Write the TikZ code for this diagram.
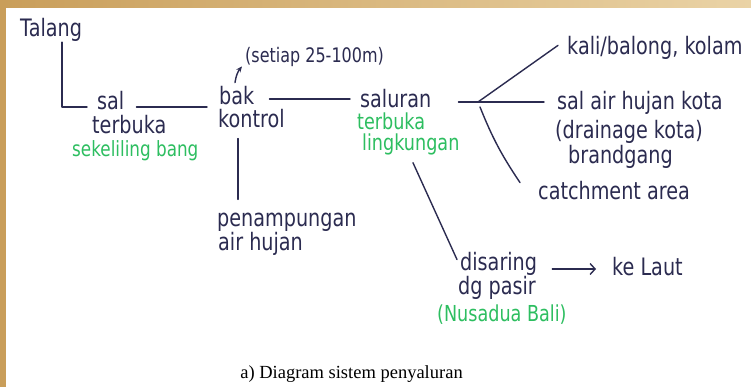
\documentclass[tikz,border=0pt]{standalone}
\usepackage{fontspec}
\setmainfont{Liberation Serif}
\newfontfamily\handfont[FakeStretch=0.8]{DejaVu Sans}
\usetikzlibrary{arrows.meta,calc}
\definecolor{ink}{HTML}{2B2B50}
\definecolor{greenink}{HTML}{2DBE60}
\definecolor{woodA}{HTML}{C99E5A}
\definecolor{woodB}{HTML}{EAD3A6}
\begin{document}
\begin{tikzpicture}[x=1pt,y=-1pt,
  hand/.style={inner sep=0pt,anchor=base west,text=ink,font=\handfont\fontsize{24}{26}\selectfont},
  handsmall/.style={hand,font=\handfont\fontsize{20}{22}\selectfont},
  greentext/.style={inner sep=0pt,anchor=base west,text=greenink,font=\handfont\fontsize{22}{24}\selectfont},
  pen/.style={draw=ink,line width=1.4pt,line cap=round,line join=round},
  caption/.style={inner sep=0pt,anchor=base,text=black,font=\fontsize{18.5}{20}\selectfont}]
\useasboundingbox (0,0) rectangle (751,387);
\fill[white] (0,0) rectangle (751,387);
% wooden frame edges
\shade[left color=woodA,right color=woodB] (0,0) rectangle (751,8);
\fill[woodA] (0,0) rectangle (6,387);

% nodes
\node[hand] (talang) at (20,37) {Talang};
\node[hand] (sal) at (97,110) {sal};
\node[hand] (terbuka) at (92,134) {terbuka};
\node[greentext,font=\handfont\fontsize{21}{23}\selectfont] (sekeliling) at (72,157) {sekeliling bang};
\node[hand] (bak) at (219,105) {bak};
\node[hand] (kontrol) at (218,128) {kontrol};
\node[handsmall] (setiap) at (245,63) {(setiap 25-100m)};
\node[hand] (saluran) at (360,108) {saluran};
\node[greentext] (terbukab) at (357,130) {terbuka};
\node[greentext] (lingkungan) at (362,151) {lingkungan};
\node[hand] (kali) at (567,55) {kali/balong, kolam};
\node[hand] (salair) at (557,110) {sal air hujan kota};
\node[hand] (drainage) at (555,139) {(drainage kota)};
\node[hand] (brandgang) at (568,164) {brandgang};
\node[hand] (catch) at (538,200) {catchment area};
\node[hand] (penampungan) at (217,226) {penampungan};
\node[hand] (airhujan) at (218,250) {air hujan};
\node[hand] (disaring) at (460,270) {disaring};
\node[hand] (dgpasir) at (458,294) {dg pasir};
\node[greentext] (nusadua) at (437,321) {(Nusadua Bali)};
\node[hand] (kelaut) at (612,275) {ke Laut};
\node[caption] (cap) at (351.5,378) {a) Diagram sistem penyaluran};

\coordinate (j) at (478,102);

% connectors
\draw[pen] ([xshift=42pt]talang.south west) |- ([xshift=-10pt,yshift=-6pt]sal.west);
\draw[pen] ([xshift=12pt,yshift=-6pt]sal.east) -- ([xshift=-12pt,yshift=-6pt]sal.east -| bak.west);
\draw[pen] ([xshift=15pt]bak.east |- saluran.west) -- ([xshift=-10pt]saluran.west);
\draw[pen] ([xshift=20pt,yshift=-10pt]kontrol.south west) -- ([xshift=20pt,yshift=13pt]kontrol.south west |- penampungan.north);
\draw[pen,-{Stealth[length=6pt,width=5pt]}] ([xshift=16pt,yshift=4pt]bak.north west) to[bend left=15] ([xshift=-3pt,yshift=1pt]setiap.south west);
\draw[pen] ([xshift=27pt]saluran.east |- j) -- (j);
\draw[pen] (j) -- ([xshift=-9pt,yshift=3pt]kali.west);
\draw[pen] (j) -- ([xshift=-13pt]salair.west |- j);
\draw[pen] ([xshift=2pt,yshift=-5pt]j) to[bend right=6] ([xshift=-18pt,yshift=-1pt]catch.north west);
\draw[pen] ([xshift=51pt,yshift=-7pt]lingkungan.south west) -- ([xshift=-3pt,yshift=-8pt]disaring.north west);
\draw[pen,-{Straight Barb[length=5pt,width=11pt]}] ([xshift=15pt,yshift=1pt]disaring.base east) -- ([xshift=-16pt,yshift=1pt]disaring.base east -| kelaut.west);
\end{tikzpicture}
\end{document}
